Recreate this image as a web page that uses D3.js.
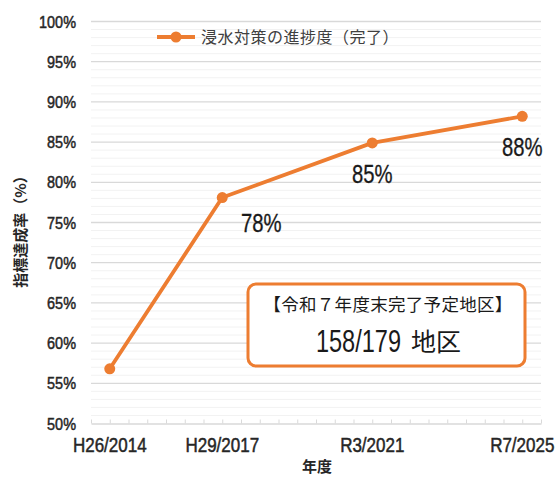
<!DOCTYPE html>
<html>
<head>
<meta charset="utf-8">
<script src="https://cdn.jsdelivr.net/npm/d3@7"></script>
<style>
  body { margin: 0; background: #fff; }
  svg { display: block; }
</style>
</head>
<body>
<svg></svg>
<script>
// data
const years = [2014, 2017, 2021, 2025];
const yearLabels = ["H26/2014", "H29/2017", "R3/2021", "R7/2025"];
const progress = [56.8, 78.1, 84.9, 88.2];
const pointLabels = [null, "78%", "85%", "88%"];
const yTicks = [50, 55, 60, 65, 70, 75, 80, 85, 90, 95, 100];
const seriesName = "浸水対策の進捗度（完了）";
const boxLine1 = "【令和７年度末完了予定地区】";
const boxLine2 = "158/179 地区";

const width = 557, height = 477;
const orange = "#ED7D31";
const sans = "'Liberation Sans', Arial, sans-serif";
const jp = "'Noto Sans CJK JP', sans-serif";

const svg = d3.select("svg")
    .attr("width", width)
    .attr("height", height);

const x = d3.scaleLinear()
    .domain([2013.5, 2025.5])
    .range([91, 541]);

const y = d3.scaleLinear()
    .domain([50, 100])
    .range([423.5, 21.5]);

// squeeze a text horizontally so it looks like a narrow face
function narrow(sel, px, py, sx) {
    sel.attr("transform", (d, i) => {
        const tx = typeof px === "function" ? px(d, i) : px;
        const ty = typeof py === "function" ? py(d, i) : py;
        return `translate(${tx},${ty}) scale(${sx},1)`;
    });
}

// minor gridlines every 1%
svg.append("g")
    .selectAll("line")
    .data(d3.range(51, 100, 1).filter(v => v % 5 !== 0))
    .enter().append("line")
    .attr("x1", x.range()[0]).attr("x2", x.range()[1])
    .attr("y1", d => y(d)).attr("y2", d => y(d))
    .attr("stroke", "#f2f2f2")
    .attr("stroke-width", 1);

// major gridlines
svg.append("g")
    .selectAll("line")
    .data(yTicks.slice(1))
    .enter().append("line")
    .attr("x1", x.range()[0]).attr("x2", x.range()[1])
    .attr("y1", d => y(d)).attr("y2", d => y(d))
    .attr("stroke", "#d9d9d9")
    .attr("stroke-width", 1.3);

// x axis (line + inside half-year ticks)
const xAxis = svg.append("g")
    .attr("transform", `translate(0,${y(50)})`)
    .call(d3.axisTop(x)
        .tickValues(d3.range(2013.5, 2025.51, 0.5))
        .tickSize(4)
        .tickSizeOuter(0)
        .tickFormat(""));
xAxis.select(".domain").attr("stroke", "#d9d9d9").attr("stroke-width", 1.3);
xAxis.selectAll(".tick line").attr("stroke", "#d9d9d9");

// x tick labels
svg.append("g")
    .selectAll("text")
    .data(years)
    .enter().append("text")
    .call(narrow, d => x(d), 452, 0.85)
    .attr("text-anchor", "middle")
    .style("font-family", sans)
    .style("font-size", "20px")
    .style("fill", "#262626")
    .style("stroke", "#262626")
    .style("stroke-width", 0.5)
    .text((d, i) => yearLabels[i]);

// y tick labels
svg.append("g")
    .selectAll("text")
    .data(yTicks)
    .enter().append("text")
    .call(narrow, 76, d => y(d) + 6, 0.85)
    .attr("text-anchor", "end")
    .style("font-family", sans)
    .style("font-size", "17px")
    .style("fill", "#262626")
    .style("stroke", "#262626")
    .style("stroke-width", 0.5)
    .text(d => d + "%");

// axis titles
svg.append("text")
    .attr("transform", "translate(26,228) rotate(-90)")
    .attr("text-anchor", "middle")
    .style("font-family", jp)
    .style("font-size", "15px")
    .style("font-weight", "bold")
    .style("fill", "#262626")
    .text("指標達成率（%）");

svg.append("text")
    .attr("x", 317)
    .attr("y", 472)
    .attr("text-anchor", "middle")
    .style("font-family", jp)
    .style("font-size", "15px")
    .style("font-weight", "bold")
    .style("fill", "#262626")
    .text("年度");

// series line
const pts = years.map((yr, i) => ({ year: yr, value: progress[i], label: pointLabels[i] }));
const line = d3.line()
    .x(d => x(d.year))
    .y(d => y(d.value));

svg.append("path")
    .datum(pts)
    .attr("fill", "none")
    .attr("stroke", orange)
    .attr("stroke-width", 3.8)
    .attr("stroke-linejoin", "round")
    .attr("d", line);

svg.selectAll(".dot")
    .data(pts)
    .enter().append("circle")
    .attr("class", "dot")
    .attr("cx", d => x(d.year))
    .attr("cy", d => y(d.value))
    .attr("r", 5.5)
    .attr("fill", orange);

// data labels below the points; the first one is nudged right, off the line
svg.selectAll(".lbl")
    .data(pts.filter(d => d.label))
    .enter().append("text")
    .attr("class", "lbl")
    .call(narrow,
        (d, i) => x(d.year) + (i === 0 ? 39 : 0),
        (d, i) => y(d.value) + (i === 0 ? 34 : 40),
        0.78)
    .attr("text-anchor", "middle")
    .style("font-family", sans)
    .style("font-size", "26px")
    .style("fill", "#1a1a1a")
    .style("stroke", "#1a1a1a")
    .style("stroke-width", 0.3)
    .text(d => d.label);

// legend
const legend = svg.append("g").attr("transform", "translate(157,37)");
legend.append("line")
    .attr("x1", 0).attr("x2", 38)
    .attr("stroke", orange).attr("stroke-width", 3.8);
legend.append("circle")
    .attr("cx", 19).attr("r", 5.5).attr("fill", orange);
legend.append("text")
    .attr("x", 44)
    .attr("y", 6)
    .style("font-family", jp)
    .style("font-size", "16px")
    .style("letter-spacing", "0.5px")
    .style("fill", "#404040")
    .text(seriesName);

// annotation box
const box = svg.append("g");
box.append("rect")
    .attr("x", 248).attr("y", 284)
    .attr("width", 277).attr("height", 82)
    .attr("rx", 8)
    .attr("fill", "#fff")
    .attr("stroke", orange)
    .attr("stroke-width", 3);
box.append("text")
    .attr("x", 388)
    .attr("y", 311)
    .attr("text-anchor", "middle")
    .style("font-family", jp)
    .style("font-size", "17.5px")
    .style("letter-spacing", "0.3px")
    .style("fill", "#1a1a1a")
    .text(boxLine1);

const [boxNum, boxUnit] = boxLine2.split(" ");
box.append("text")
    .call(narrow, 401, 352, 0.76)
    .attr("text-anchor", "end")
    .style("font-family", sans)
    .style("font-size", "31px")
    .style("fill", "#1a1a1a")
    .text(boxNum);
box.append("text")
    .attr("x", 411)
    .attr("y", 351)
    .style("font-family", jp)
    .style("font-size", "25px")
    .style("fill", "#1a1a1a")
    .text(boxUnit);
</script>
</body>
</html>
